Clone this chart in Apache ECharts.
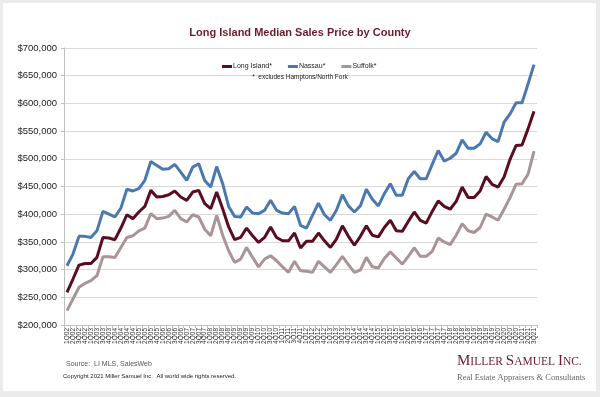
<!DOCTYPE html>
<html>
<head>
<meta charset="utf-8">
<title>Long Island Median Sales Price by County</title>
<script src="https://cdn.jsdelivr.net/npm/echarts@6/dist/echarts.min.js"></script>
<style>
  html, body {
    margin: 0;
    padding: 0;
    background: #ebebeb;
  }
  #chart-box {
    width: 600px;
    height: 397px;
  }
</style>
</head>
<body>
<div id="chart-box"></div>
<script>
// quarters 1Q02 .. 3Q21
const quarters = [];
for (let y = 2002; y <= 2021; y++) {
  for (let q = 1; q <= 4; q++) {
    if (y === 2021 && q > 3) break;
    quarters.push(q + 'Q' + String(y).slice(2));
  }
}

// median sales price, in thousands of dollars
const longIsland = [
  259, 283, 308, 311, 311, 322, 358, 357, 354, 375,
  399, 392, 404, 414, 443, 431, 432, 435, 442, 431,
  425, 440, 443, 419, 410, 440, 410, 377, 354, 358,
  375, 361, 349, 358, 377, 358, 352, 352, 366, 339,
  351, 351, 366, 352, 340, 355, 379, 360, 344, 360,
  379, 362, 359, 376, 389, 370, 369, 387, 404, 389,
  384, 405, 424, 414, 409, 423, 449, 430, 430, 442,
  468, 454, 449, 467, 499, 524, 525, 554, 586
];
const nassau = [
  307, 328, 360, 360, 358, 370, 405, 400, 395, 411,
  445, 442, 446, 461, 495, 488, 481, 482, 490, 476,
  461, 485, 491, 461, 449, 486, 455, 414, 396, 395,
  413, 402, 401, 407, 425, 407, 402, 401, 414, 380,
  375, 398, 420, 399, 389, 407, 435, 415, 404, 415,
  445, 427, 415, 437, 455, 434, 434, 464, 477, 464,
  464, 490, 515, 496, 501, 510, 534, 519, 519, 527,
  548, 536, 531, 566, 581, 601, 601, 635, 670
];
const suffolk = [
  226, 247, 268, 275, 280, 289, 323, 323, 322, 340,
  358, 361, 370, 375, 401, 392, 393, 396, 407, 392,
  386, 399, 395, 373, 361, 398, 362, 334, 313, 319,
  340, 322, 305, 319, 325, 316, 305, 295, 315, 298,
  297, 295, 315, 305, 295, 309, 324, 309, 295, 299,
  322, 305, 303, 320, 332, 321, 310, 324, 339, 324,
  324, 333, 357, 350, 345, 362, 383, 370, 367, 376,
  400, 395, 389, 409, 430, 454, 455, 472, 514
];

const seriesNames = ['Long Island*', 'Nassau*', 'Suffolk*'];
const yTicks = { min: 200000, max: 700000, step: 50000 };

function toDollars(arr) {
  return arr.map(v => v * 1000);
}

function renderChart() {
  let myEchart = echarts.init(document.getElementById('chart-box'));

  let optionData = {
    backgroundColor: '#ebebeb',
    animation: false,
    textStyle: { fontFamily: 'Liberation Sans, Arial, sans-serif' },
    title: [
      {
        text: 'Long Island Median Sales Price by County',
        left: 'center',
        top: 22,
        textStyle: { fontSize: 11, fontWeight: 'bold', color: '#6a1c2c' }
      },
      {
        text: '*  excludes Hamptons/North Fork',
        left: 'center',
        top: 69,
        textStyle: { fontSize: 6.5, fontWeight: 'normal', color: '#222' }
      }
    ],
    graphic: [
      {
        type: 'rect',
        z: -100,
        silent: true,
        shape: { x: 3, y: 3, width: 593, height: 388 },
        style: { fill: '#ffffff' }
      },
      {
        type: 'text',
        left: 66,
        top: 361,
        style: { text: 'Source:  LI MLS, SalesWeb', fontSize: 7, fill: '#555', fontFamily: 'Liberation Sans, Arial' }
      },
      {
        type: 'text',
        left: 63,
        top: 373,
        style: { text: 'Copyright 2021 Miller Samuel Inc.  All world wide rights reserved.', fontSize: 6, fill: '#222', fontFamily: 'Liberation Sans, Arial' }
      },
      {
        type: 'text',
        left: 457,
        top: 354,
        style: {
          text: '{b|M}{s|ILLER }{b|S}{s|AMUEL }{b|I}{s|NC.}',
          rich: {
            b: { fontSize: 15, fill: '#6a1c2c', fontFamily: 'Liberation Serif, DejaVu Serif, serif' },
            s: { fontSize: 11.5, fill: '#6a1c2c', fontFamily: 'Liberation Serif, DejaVu Serif, serif' }
          }
        }
      },
      {
        type: 'text',
        left: 457,
        top: 373,
        style: { text: 'Real Estate Appraisers & Consultants', fontSize: 8.5, fill: '#666', fontFamily: 'Liberation Serif, DejaVu Serif, serif' }
      }
    ],
    legend: {
      data: seriesNames,
      left: 217,
      top: 58,
      icon: 'rect',
      itemWidth: 10,
      itemHeight: 3,
      itemGap: 16,
      textStyle: { fontSize: 7, color: '#222', padding: [0, 0, 0, -4] }
    },
    grid: {
      top: 48,
      left: 64,
      right: 63,
      bottom: 72,
      containLabel: false
    },
    color: ['#5a0c20', '#4a79af', '#a99497'],
    xAxis: {
      type: 'category',
      data: quarters,
      boundaryGap: true,
      axisLine: { lineStyle: { color: '#bfbfbf' } },
      axisTick: { show: true, interval: 0, length: 3, lineStyle: { color: '#bfbfbf' } },
      axisLabel: { interval: 0, rotate: 90, fontSize: 6.5, color: '#333', margin: 3 }
    },
    yAxis: {
      type: 'value',
      min: yTicks.min,
      max: yTicks.max,
      interval: yTicks.step,
      axisLine: { show: true, lineStyle: { color: '#bfbfbf' } },
      axisTick: { show: true, length: 3, lineStyle: { color: '#bfbfbf' } },
      axisLabel: {
        color: '#222',
        fontSize: 9.5,
        margin: 7,
        formatter: v => '$' + v.toLocaleString('en-US')
      },
      splitLine: { lineStyle: { color: '#d9d9d9' } }
    },
    series: [
      { name: seriesNames[0], type: 'line', data: toDollars(longIsland) },
      { name: seriesNames[1], type: 'line', data: toDollars(nassau) },
      { name: seriesNames[2], type: 'line', data: toDollars(suffolk) }
    ].map(s => Object.assign(s, {
      symbol: 'none',
      lineStyle: { width: 3 },
      z: 3
    }))
  };

  myEchart.setOption(optionData);
}
renderChart();
</script>
</body>
</html>
